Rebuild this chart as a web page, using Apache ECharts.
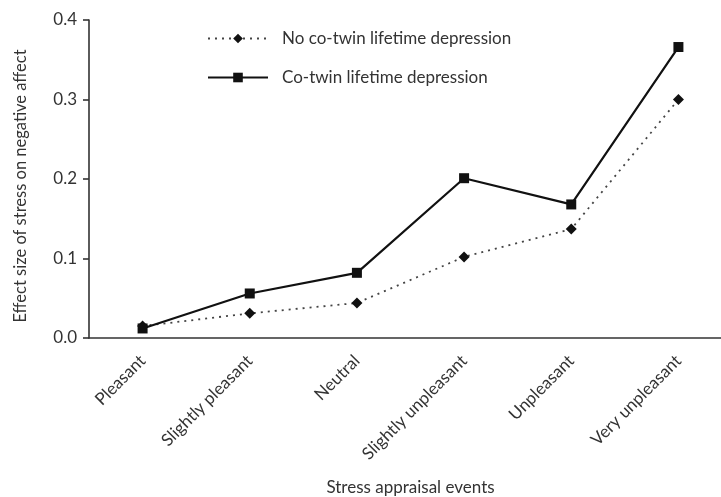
<!DOCTYPE html>
<html>
<head>
<meta charset="utf-8">
<script src="https://cdn.jsdelivr.net/npm/echarts@6/dist/echarts.min.js"></script>
<style>html,body{margin:0;padding:0;background:#fff}#c{width:721px;height:497px}</style>
</head>
<body>
<div id="c"></div>
<script>
var categories = ['Pleasant', 'Slightly pleasant', 'Neutral', 'Slightly unpleasant', 'Unpleasant', 'Very unpleasant'];
var noCoTwin = [0.015, 0.031, 0.044, 0.102, 0.137, 0.300];
var coTwin = [0.012, 0.056, 0.082, 0.201, 0.168, 0.366];
var yTicks = [0, 0.1, 0.2, 0.3, 0.4];

var chart = echarts.init(document.getElementById('c'), null, {renderer: 'canvas'});
var font = 'Lato, "Open Sans", sans-serif';
var axisColor = '#333';
var fs = 17;
chart.setOption({
  animation: false,
  textStyle: {fontFamily: font},
  grid: {left: 89, top: 20, right: -11, bottom: 159, containLabel: false, outerBoundsMode: 'none'},
  legend: {
    orient: 'vertical', left: 202, top: 25, itemGap: 22, itemWidth: 60, itemHeight: 12,
    textStyle: {fontFamily: font, fontSize: fs, color: '#333', padding: [0, 0, 0, 9]},
    data: ['No co-twin lifetime depression', 'Co-twin lifetime depression']
  },
  xAxis: {
    type: 'category', data: categories, boundaryGap: true,
    name: 'Stress appraisal events', nameLocation: 'middle', nameGap: 141,
    nameTextStyle: {fontFamily: font, fontSize: fs, color: '#333'},
    axisLine: {lineStyle: {color: axisColor, width: 1.6}},
    axisTick: {alignWithLabel: false, length: 6, lineStyle: {color: axisColor, width: 1.6}},
    axisLabel: {rotate: 45, fontSize: fs, color: '#333', margin: 20, interval: 0, fontFamily: font}
  },
  yAxis: {
    type: 'value', min: yTicks[0], max: yTicks[yTicks.length - 1], interval: 0.1,
    name: 'Effect size of stress on negative affect', nameLocation: 'middle', nameGap: 60, nameRotate: 90,
    nameTextStyle: {fontFamily: font, fontSize: 16.5, color: '#333', padding: [0, 14, 0, 0]},
    splitLine: {show: false},
    axisLine: {show: true, lineStyle: {color: axisColor, width: 1.6}},
    axisTick: {show: true, length: 6, lineStyle: {color: axisColor, width: 1.6}},
    axisLabel: {fontSize: fs, color: '#333', margin: 12, fontFamily: font,
      formatter: function (v) { return v.toFixed(1); }}
  },
  series: [
    {
      name: 'No co-twin lifetime depression', type: 'line', data: noCoTwin,
      symbol: 'diamond', symbolSize: 11,
      itemStyle: {color: '#111'},
      lineStyle: {color: '#444', width: 1.8, type: [2, 5]}
    },
    {
      name: 'Co-twin lifetime depression', type: 'line', data: coTwin,
      symbol: 'rect', symbolSize: 10,
      itemStyle: {color: '#111'},
      lineStyle: {color: '#111', width: 2.2, type: 'solid'}
    }
  ]
});
</script>
</body>
</html>
